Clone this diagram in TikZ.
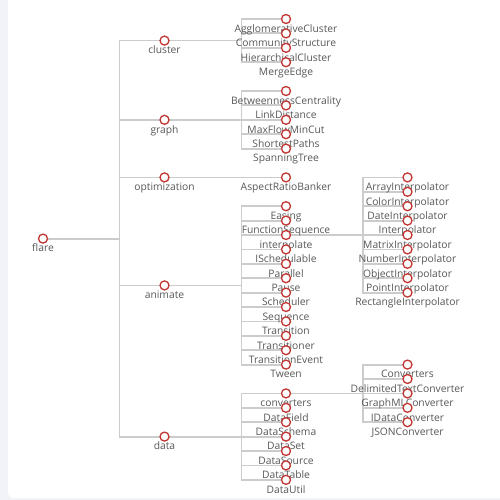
\documentclass[tikz,border=0pt]{standalone}
\usepackage{fontspec}
\setmainfont{Open Sans}
\definecolor{echred}{HTML}{C23531}
\definecolor{edgegray}{HTML}{CCCCCC}
\definecolor{lblgray}{HTML}{585858}
\definecolor{stripbg}{HTML}{F2F3F8}
\tikzset{
  dot/.style={circle, draw=echred, fill=white, line width=1.3pt, minimum size=9pt, inner sep=0pt},
  lbl/.style={font=\fontsize{10.3}{12}\selectfont, text=lblgray, inner sep=0pt, anchor=base},
  edge/.style={draw=edgegray, line width=1.8pt}
}
\begin{document}
\begin{tikzpicture}[x=1pt,y=-1pt]
\useasboundingbox (0,0) rectangle (500,500);
\fill[stripbg] (0,0) rectangle (500,500);
\fill[white, rounded corners=5pt] (8,-6) rectangle (506,498);
% coordinates
\coordinate (flare) at (43,{19+14.4*15.25});
\foreach \nm/\k in {cluster/1.5, graph/7, optimization/11, animate/18.5, data/29}
  \coordinate (\nm) at (164.5,{19+14.4*\k});
\foreach \nm/\k in {AgglomerativeCluster/0, CommunityStructure/1, HierarchicalCluster/2, MergeEdge/3,
  BetweennessCentrality/5, LinkDistance/6, MaxFlowMinCut/7, ShortestPaths/8, SpanningTree/9,
  AspectRatioBanker/11,
  Easing/13, FunctionSequence/14, interpolate/15, ISchedulable/16, Parallel/17, Pause/18, Scheduler/19,
  Sequence/20, Transition/21, Transitioner/22, TransitionEvent/23, Tween/24,
  converters/26, DataField/27, DataSchema/28, DataSet/29, DataSource/30, DataTable/31, DataUtil/32}
  \coordinate (\nm) at (286,{19+14.4*\k});
\foreach \nm/\k in {ArrayInterpolator/11, ColorInterpolator/12, DateInterpolator/13, Interpolator/14,
  MatrixInterpolator/15, NumberInterpolator/16, ObjectInterpolator/17, PointInterpolator/18, RectangleInterpolator/19,
  Converters/24, DelimitedTextConverter/25, GraphMLConverter/26, IDataConverter/27, JSONConverter/28}
  \coordinate (\nm) at (407.5,{19+14.4*\k});
% edges
\foreach \c in {cluster, graph, optimization, animate, data}
  \draw[edge] (flare) -- ++(76.5,0) |- (\c);
\foreach \c in {AgglomerativeCluster, CommunityStructure, HierarchicalCluster, MergeEdge}
  \draw[edge] (cluster) -- ++(77,0) |- (\c);
\foreach \c in {BetweennessCentrality, LinkDistance, MaxFlowMinCut, ShortestPaths, SpanningTree}
  \draw[edge] (graph) -- ++(77,0) |- (\c);
\draw[edge] (optimization) -- (AspectRatioBanker);
\foreach \c in {Easing, FunctionSequence, interpolate, ISchedulable, Parallel, Pause, Scheduler,
  Sequence, Transition, Transitioner, TransitionEvent, Tween}
  \draw[edge] (animate) -- ++(77,0) |- (\c);
\foreach \c in {converters, DataField, DataSchema, DataSet, DataSource, DataTable, DataUtil}
  \draw[edge] (data) -- ++(77,0) |- (\c);
\foreach \c in {ArrayInterpolator, ColorInterpolator, DateInterpolator, Interpolator,
  MatrixInterpolator, NumberInterpolator, ObjectInterpolator, PointInterpolator, RectangleInterpolator}
  \draw[edge] (interpolate) -- ++(77,0) |- (\c);
\foreach \c in {Converters, DelimitedTextConverter, GraphMLConverter, IDataConverter, JSONConverter}
  \draw[edge] (converters) -- ++(77,0) |- (\c);
% labels and circles
\foreach \c in {flare, cluster, graph, optimization, animate, data,
  AgglomerativeCluster, CommunityStructure, HierarchicalCluster, MergeEdge,
  BetweennessCentrality, LinkDistance, MaxFlowMinCut, ShortestPaths, SpanningTree,
  AspectRatioBanker,
  Easing, FunctionSequence, interpolate, ISchedulable, Parallel, Pause, Scheduler,
  Sequence, Transition, Transitioner, TransitionEvent, Tween,
  converters, DataField, DataSchema, DataSet, DataSource, DataTable, DataUtil,
  ArrayInterpolator, ColorInterpolator, DateInterpolator, Interpolator,
  MatrixInterpolator, NumberInterpolator, ObjectInterpolator, PointInterpolator, RectangleInterpolator,
  Converters, DelimitedTextConverter, GraphMLConverter, IDataConverter, JSONConverter}
  \node[lbl] (\c-label) at ([yshift=-13.3pt]\c) {\c};
\foreach \c in {flare, cluster, graph, optimization, animate, data,
  AgglomerativeCluster, CommunityStructure, HierarchicalCluster, MergeEdge,
  BetweennessCentrality, LinkDistance, MaxFlowMinCut, ShortestPaths, SpanningTree,
  AspectRatioBanker,
  Easing, FunctionSequence, interpolate, ISchedulable, Parallel, Pause, Scheduler,
  Sequence, Transition, Transitioner, TransitionEvent, Tween,
  converters, DataField, DataSchema, DataSet, DataSource, DataTable, DataUtil,
  ArrayInterpolator, ColorInterpolator, DateInterpolator, Interpolator,
  MatrixInterpolator, NumberInterpolator, ObjectInterpolator, PointInterpolator, RectangleInterpolator,
  Converters, DelimitedTextConverter, GraphMLConverter, IDataConverter, JSONConverter}
  \node[dot] (\c-dot) at (\c) {};
\end{tikzpicture}
\end{document}
